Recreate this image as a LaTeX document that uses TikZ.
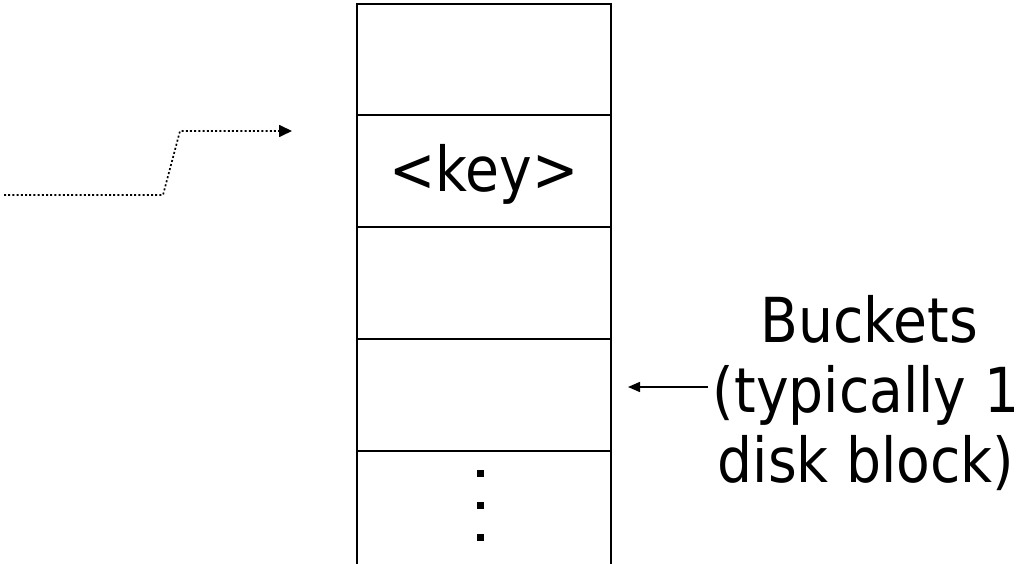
\documentclass[tikz,border=0pt]{standalone}
\usepackage{fontspec}
\setmainfont{DejaVu Sans}[FakeStretch=0.89]
\usetikzlibrary{arrows.meta}
\begin{document}
\begin{tikzpicture}[x=1pt,y=-1pt,
  cellline/.style={line width=2.5pt},
  bigtext/.style={font=\fontsize{62}{70}\selectfont, inner sep=0pt},
  pointer/.style={dash pattern=on 2pt off 2.2pt, line width=1.7pt, -{Triangle[length=13pt,width=12pt]}},
  plainarrow/.style={line width=1.5pt, -{Triangle[length=12pt,width=10pt]}},
  dotsq/.style={fill=black}
]
\useasboundingbox (0,0) rectangle (1022,564);
% bucket column
\draw[cellline] (357,570) -- (357,4) -- (611,4) -- (611,570);
\foreach \y in {115,227,339,451} \draw[cellline] (357,\y) -- (611,\y);
\node[bigtext] (key) at (484,174) {<key>};
% vertical dots
\foreach \y in {473,505,537} \fill[dotsq] (477,\y-3.5) rectangle (484,\y+3.5);
% dotted pointer
\coordinate (p0) at (4,195);
\coordinate (p1) at (163,195);
\coordinate (p2) at (180,131);
\coordinate (p3) at (292,131);
\draw[pointer] (p0) -- (p1) -- (p2) -- (p3);
% buckets label
\node[bigtext, anchor=base] (b1) at (869,342) {Buckets};
\node[bigtext, anchor=base] (b2) at (866,412) {(typically 1};
\node[bigtext, anchor=base] (b3) at (866,482) {disk block)};
\coordinate (src) at (708,387);
\coordinate (dst) at (628,387);
\draw[plainarrow] (src) -- (dst);
\end{tikzpicture}
\end{document}
